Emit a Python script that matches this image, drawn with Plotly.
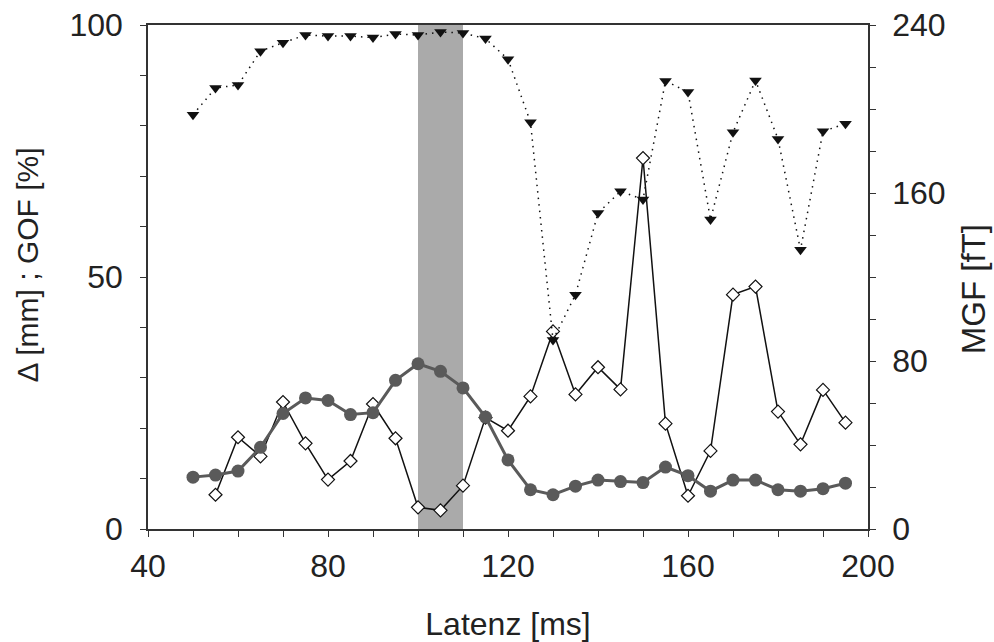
import plotly.graph_objects as go
from plotly.subplots import make_subplots

# Latency (ms)
lat_gof = [50, 55, 60, 65, 70, 75, 80, 85, 90, 95, 100, 105, 110, 115, 120, 125, 130,
           135, 140, 145, 150, 155, 160, 165, 170, 175, 180, 185, 190, 195]
gof = [82.2, 87.5, 88.1, 94.8, 96.5, 98.0, 97.8, 97.8, 97.5, 98.2, 98.0, 98.6, 98.4, 97.3,
       93.2, 80.7, 37.5, 46.5, 62.7, 67.0, 65.4, 88.9, 86.7, 61.4, 78.7, 89.0, 77.4, 55.4,
       78.9, 80.4]

lat_delta = [55, 60, 65, 70, 75, 80, 85, 90, 95, 100, 105, 110, 115, 120, 125, 130, 135,
             140, 145, 150, 155, 160, 165, 170, 175, 180, 185, 190, 195]
delta = [6.8, 18.2, 14.4, 25.2, 17.0, 9.8, 13.5, 24.8, 18.0, 4.3, 3.7, 8.6, 22.1, 19.5,
         26.3, 39.2, 26.7, 32.1, 27.7, 73.6, 20.9, 6.6, 15.5, 46.5, 48.1, 23.3, 16.8, 27.6,
         21.1]

lat_mgf = lat_gof
mgf = [24.7, 25.7, 27.6, 38.9, 55.0, 62.4, 61.2, 54.5, 55.4, 70.8, 78.7, 75.1, 67.2, 53.3,
       32.9, 18.7, 16.3, 20.4, 23.3, 22.6, 22.1, 29.5, 25.4, 18.0, 23.3, 23.3, 18.7, 18.0,
       19.2, 21.8]

band = [100, 110]
y_left_max = 100

FONT = "Liberation Sans, Arial, sans-serif"
TXT = "#222222"
AX = "#333333"
FS = 32

fig = make_subplots(specs=[[{"secondary_y": True}]])

# shaded latency window
fig.add_trace(go.Bar(x=[(band[0] + band[1]) / 2], y=[y_left_max], width=[band[1] - band[0]],
                     marker=dict(color="#aaaaaa", line=dict(width=0)),
                     hoverinfo="skip", showlegend=False), secondary_y=False)

fig.add_trace(go.Scatter(x=lat_mgf, y=mgf, mode="lines+markers",
                         line=dict(color="#5a5a5a", width=3),
                         marker=dict(symbol="circle", size=13, color="#5a5a5a"),
                         name="MGF", showlegend=False), secondary_y=True)

fig.add_trace(go.Scatter(x=lat_delta, y=delta, mode="lines+markers",
                         line=dict(color="#111111", width=1.5),
                         marker=dict(symbol="diamond", size=10, color="white",
                                     line=dict(color="#111111", width=1.2)),
                         name="Delta", showlegend=False), secondary_y=False)

fig.add_trace(go.Scatter(x=lat_gof, y=gof, mode="lines+markers",
                         line=dict(color="#111111", width=1.5, dash="1.5px,5px"),
                         marker=dict(symbol="triangle-down", size=11, color="#111111"),
                         name="GOF", showlegend=False), secondary_y=False)

axis_common = dict(showline=True, linecolor=AX, linewidth=1.5, ticks="outside",
                   ticklen=6, tickwidth=1.2, tickcolor=AX, showgrid=False, zeroline=False,
                   automargin=False,
                   tickfont=dict(family=FONT, size=FS, color=TXT))

fig.update_xaxes(range=[40, 200], dtick=40, tick0=40, mirror=True, domain=[0, 1],
                 minor=dict(dtick=10, ticks="outside", ticklen=6, tickcolor=AX, tickwidth=1.2),
                 title=dict(text="Latenz [ms]", font=dict(family=FONT, size=FS, color=TXT),
                            standoff=30),
                 ticklabelstandoff=2, **axis_common)
fig.update_yaxes(range=[0, 100], dtick=50, tick0=0,
                 minor=dict(dtick=10, ticks="outside", ticklen=6, tickcolor=AX, tickwidth=1.2),
                 ticklabelstandoff=11, secondary_y=False, **axis_common)
fig.update_yaxes(range=[0, 240], dtick=80, tick0=0,
                 minor=dict(dtick=20, ticks="outside", ticklen=6, tickcolor=AX, tickwidth=1.2),
                 ticklabelstandoff=10, secondary_y=True, **axis_common)

# axis titles placed as annotations to match the original offsets
fig.add_annotation(text="Δ [mm] ; GOF [%]", xref="paper", yref="paper",
                   x=-0.168, y=0.523, xanchor="center", yanchor="middle", textangle=-90,
                   showarrow=False, font=dict(family=FONT, size=30, color=TXT))
fig.add_annotation(text="MGF [fT]", xref="paper", yref="paper",
                   x=1.146, y=0.476, xanchor="center", yanchor="middle", textangle=-90,
                   showarrow=False, font=dict(family=FONT, size=33, color=TXT))

fig.update_layout(width=994, height=642, margin=dict(l=148, r=126, t=25, b=113),
                  paper_bgcolor="white", plot_bgcolor="white", bargap=0,
                  font=dict(family=FONT, color=TXT))

fig.write_html("out.html")
